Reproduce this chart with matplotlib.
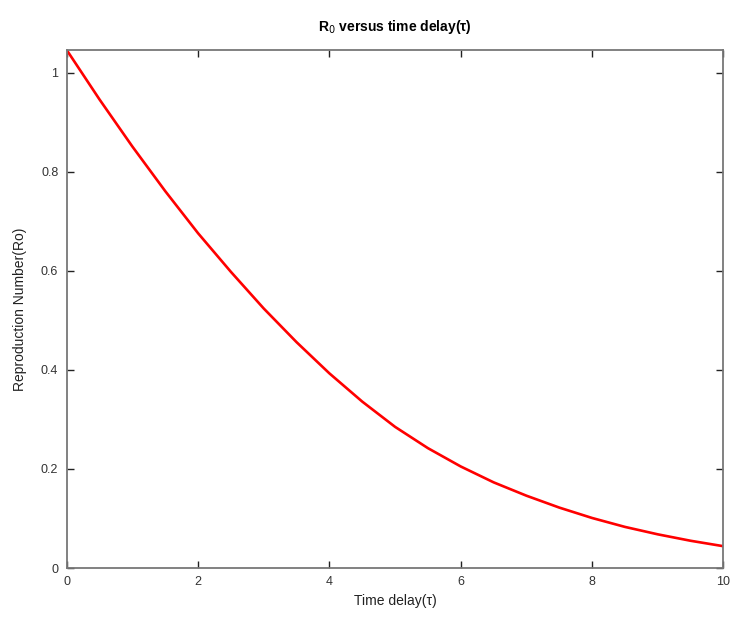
import matplotlib
matplotlib.use("Agg")
import matplotlib.pyplot as plt

tau = [0, 0.5, 1, 1.5, 2, 2.5, 3, 3.5, 4, 4.5, 5, 5.5, 6, 6.5, 7, 7.5, 8, 8.5, 9, 9.5, 10]
r0 = [1.046, 0.946, 0.851, 0.761, 0.676, 0.598, 0.524, 0.456, 0.393, 0.336, 0.285, 0.242,
      0.205, 0.173, 0.146, 0.122, 0.101, 0.083, 0.068, 0.055, 0.044]
xticks = [0, 2, 4, 6, 8, 10]
yticks = [0, 0.2, 0.4, 0.6, 0.8, 1]
ytick_labels = ["0", "0.2", "0.4", "0.6", "0.8", "1"]

plt.rcParams['font.family'] = ['Liberation Sans', 'DejaVu Sans']

fig = plt.figure(figsize=(7.33, 6.17), dpi=100)
ax = fig.add_axes([0.091, 0.0794, 0.896, 0.8396])
ax.plot(tau, r0, color='#ff0000', linewidth=1.9, solid_joinstyle='round')
ax.set_xlim(0, 10)
ax.set_ylim(0, 1.046)
ax.set_xticks(xticks)
ax.set_xticklabels([str(v) for v in xticks])
ax.set_yticks(yticks)
ax.set_yticklabels(ytick_labels)
ax.tick_params(direction='in', top=True, right=True, length=5, width=1,
               labelsize=9, labelcolor='#333333', color='#222222', pad=6)
for s in ax.spines.values():
    s.set_color('#777777')
    s.set_linewidth(1.3)
ax.set_xlabel('Time delay(τ)', fontsize=10, color='#222222', labelpad=4)
ax.set_ylabel('Reproduction Number(Ro)', fontsize=10, color='#222222', labelpad=10)
ax.set_title(r'R$_0$ versus time delay(τ)', fontsize=10, fontweight='bold',
             family=['Liberation Sans Narrow', 'Liberation Sans', 'DejaVu Sans'], pad=14)
fig.savefig('out.png', dpi=100)
